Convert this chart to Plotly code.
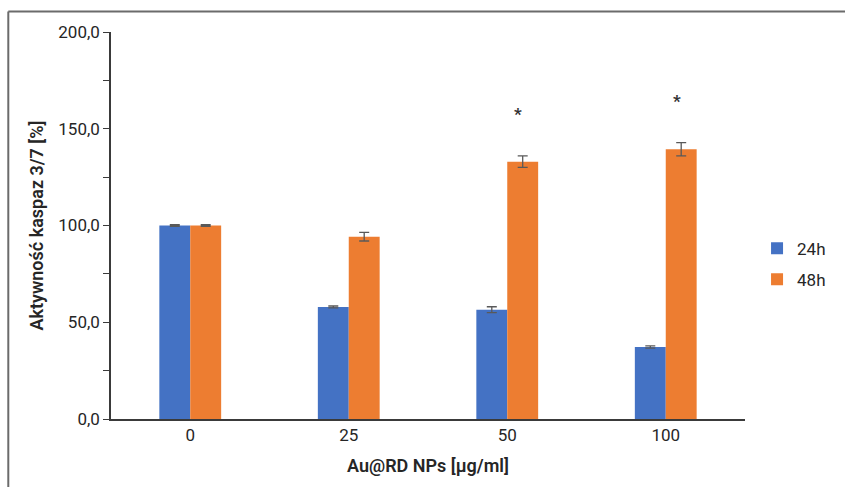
import plotly.graph_objects as go

categories = ["0", "25", "50", "100"]
series_names = ["24h", "48h"]
values_24h = [100.0, 57.9, 56.5, 37.2]
values_48h = [100.0, 94.2, 133.0, 139.4]
err_24h = [0.4, 0.5, 1.5, 0.6]
err_48h = [0.4, 2.2, 3.0, 3.4]
significant_48h = [False, False, True, True]

FONT = "Roboto, sans-serif"
TXT = "#262626"
BLUE = "#4472C4"
ORANGE = "#ED7D31"
ERRC = "#595959"

fig = go.Figure()
fig.add_trace(go.Bar(
    x=categories, y=values_24h, name=series_names[0], marker_color=BLUE,
    marker_line_width=0, legendgroup="a",
    error_y=dict(type="data", array=err_24h, color=ERRC, thickness=1.3, width=5),
))
fig.add_trace(go.Bar(
    x=categories, y=values_48h, name=series_names[1], marker_color=ORANGE,
    marker_line_width=0, legendgroup="b",
    error_y=dict(type="data", array=err_48h, color=ERRC, thickness=1.3, width=5),
))

for i, (v, e, s) in enumerate(zip(values_48h, err_48h, significant_48h)):
    if s:
        fig.add_annotation(x=i, y=v + e + 21.5, text="<b>*</b>", showarrow=False,
                           xshift=11, yanchor="middle",
                           font=dict(family=FONT, size=17, color="#333333"))

# partial outer frame (left and top edges)
fig.add_shape(type="line", xref="paper", yref="paper", x0=-0.162, x1=-0.162, y0=1.053, y1=-0.3,
              line=dict(color="#6b6b6b", width=2))
fig.add_shape(type="line", xref="paper", yref="paper", x0=-0.162, x1=1.3, y0=1.053, y1=1.053,
              line=dict(color="#6b6b6b", width=2))

fig.update_layout(
    width=845, height=487,
    margin=dict(l=111, r=100, t=32, b=68, autoexpand=False),
    paper_bgcolor="white", plot_bgcolor="white",
    barmode="group", bargap=0.61, bargroupgap=0,
    separators=",.",
    font=dict(family=FONT, size=17, color=TXT),
    showlegend=True,
    legend=dict(x=1.019, y=0.40, xanchor="left", yanchor="middle",
                font=dict(family=FONT, size=17, color=TXT),
                tracegroupgap=6, itemwidth=30, bgcolor="rgba(0,0,0,0)"),
    xaxis=dict(
        type="category", categoryorder="array", categoryarray=categories,
        range=[-0.5, len(categories) - 0.5], autorange=False,
        showgrid=False, showline=True, linecolor="#3a3a3a", linewidth=1.5,
        ticks="", tickfont=dict(family=FONT, size=17, color=TXT),
        title=dict(text="Au@RD NPs [µg/ml]", font=dict(family=FONT, size=18, color=TXT, weight=600), standoff=15),
    ),
    yaxis=dict(
        range=[0, 200], autorange=False, dtick=50, tickformat=".1f", showgrid=False, zeroline=False,
        showline=True, linecolor="#3a3a3a", linewidth=1.5,
        ticks="outside", ticklen=6, tickwidth=1.3, tickcolor="#3a3a3a",
        minor=dict(dtick=25, ticks="outside", ticklen=6, tickwidth=1.3, tickcolor="#3a3a3a"),
        tickfont=dict(family=FONT, size=17, color=TXT),
        title=dict(text="Aktywność kaspaz 3/7 [%]", font=dict(family=FONT, size=18, color=TXT, weight=600), standoff=10),
    ),
)

fig.write_html("out.html")
